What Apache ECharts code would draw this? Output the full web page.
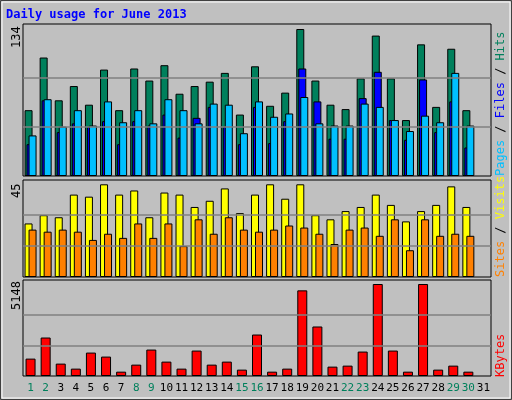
<!DOCTYPE html>
<html><head><meta charset="utf-8">
<script src="https://cdn.jsdelivr.net/npm/echarts@6/dist/echarts.min.js"></script>
<style>html,body{margin:0;padding:0;background:#c0c0c0}#c{width:512px;height:400px}</style>
</head><body><div id="c"></div>
<script>
const days = Array.from({length:31},(_,i)=>String(i+1));
const weekendDays = ['1','2','8','9','15','16','22','23','29','30'];
const hits  = [60,108,69,82,65,97,60,98,87,101,75,82,86,94,56,100,64,76,134,87,65,61,89,128,89,51,120,63,116,60,null];
const files = [29,69,40,48,45,50,29,50,46,56,35,53,63,45,29,63,30,50,98,68,34,34,71,95,51,33,88,40,68,26,null];
const pages = [37,70,45,60,46,68,49,60,48,70,60,48,66,65,39,68,54,57,72,48,46,46,66,63,51,41,55,49,94,46,null];
const visits= [26,30,29,40,39,45,40,42,29,41,40,34,37,43,31,40,45,38,45,30,28,32,34,40,35,27,32,35,44,34,null];
const sites = [23,22,23,22,18,21,19,26,19,26,15,28,21,29,23,22,23,25,24,21,16,23,24,20,28,13,28,20,21,20,null];
const kbytes= [973,2153,693,412,1310,1086,243,636,1479,805,412,1423,636,805,356,2321,243,412,4792,2770,524,580,1367,5148,1423,243,5148,356,580,243,null];
const maxHits=134, maxVisits=45, maxKB=5148;

const mono='"DejaVu Sans Mono", monospace';
const grids=[
 {left:23,top:24,width:468,height:152},
 {left:23,top:180,width:468,height:97},
 {left:23,top:280,width:468,height:96}
].map(g=>Object.assign(g,{show:true,borderColor:'#000',borderWidth:1,backgroundColor:'#c0c0c0'}));
function xa(i,show){return {type:'category',gridIndex:i,data:days,axisLine:{show:false},axisTick:{show:false},
  axisLabel:{show:show,fontFamily:mono,fontSize:11,margin:7,interval:0,
   color:(v)=>weekendDays.includes(v)?'#00805c':'#000'}};}
function ya(i,m){return {type:'value',gridIndex:i,min:0,max:m,axisLabel:{show:false},axisLine:{show:false},axisTick:{show:false},splitLine:{show:false}};}
function gl(m){return {silent:true,symbol:'none',label:{show:false},lineStyle:{color:'#808080',type:'solid',width:1.5},data:[{yAxis:m/3},{yAxis:2*m/3}]};}
const bs={borderColor:'#000',borderWidth:1};
const opt={animation:false,backgroundColor:'#c0c0c0',grid:grids,
 xAxis:[xa(0,false),xa(1,false),xa(2,true)],
 yAxis:[ya(0,maxHits*152/147),ya(1,maxVisits*97/92.7),ya(2,maxKB*96/92)],
 series:[
  {type:'bar',xAxisIndex:0,yAxisIndex:0,data:hits,barWidth:8,barGap:'-75%',itemStyle:Object.assign({color:'#00805c'},bs),markLine:gl(maxHits),z:1},
  {type:'bar',xAxisIndex:0,yAxisIndex:0,data:files,barWidth:8,barGap:'-75%',itemStyle:Object.assign({color:'#0000ff'},bs),z:2},
  {type:'bar',xAxisIndex:0,yAxisIndex:0,data:pages,barWidth:8,barGap:'-75%',itemStyle:Object.assign({color:'#00c0ff'},bs),z:3},
  {type:'bar',xAxisIndex:1,yAxisIndex:1,data:visits,barWidth:8,barGap:'-50%',itemStyle:Object.assign({color:'#ffff00'},bs),markLine:gl(maxVisits)},
  {type:'bar',xAxisIndex:1,yAxisIndex:1,data:sites,barWidth:8,barGap:'-50%',itemStyle:Object.assign({color:'#ff8000'},bs)},
  {type:'bar',xAxisIndex:2,yAxisIndex:2,data:kbytes,barWidth:10,itemStyle:Object.assign({color:'#ff0000'},bs),markLine:gl(maxKB)}
 ],
 graphic:[
  {type:'rect',shape:{x:0.5,y:0.5,width:511,height:399},style:{fill:null,stroke:'#404040',lineWidth:1},silent:true},
  {type:'rect',shape:{x:2,y:2,width:508,height:396},style:{fill:null,stroke:'#ffffff',lineWidth:1},silent:true},
  {type:'text',left:6,top:9,style:{text:'Daily usage for June 2013',fill:'#0000ff',font:'bold 12px '+mono}},
  {type:'text',x:11,y:48,rotation:Math.PI/2,style:{text:String(maxHits),fill:'#000',font:'12px '+mono}},
  {type:'text',x:11,y:198,rotation:Math.PI/2,style:{text:String(maxVisits),fill:'#000',font:'12px '+mono}},
  {type:'text',x:11,y:310,rotation:Math.PI/2,style:{text:String(maxKB),fill:'#000',font:'12px '+mono}},
  {type:'text',x:495,y:176,rotation:Math.PI/2,style:{text:'{p|Pages}{s| / }{f|Files}{s| / }{h|Hits}',font:'12px '+mono,
    rich:{p:{fill:'#00c0ff',font:'12px '+mono},s:{fill:'#000',font:'12px '+mono},f:{fill:'#0000ff',font:'12px '+mono},h:{fill:'#00805c',font:'12px '+mono}}}},
  {type:'text',x:495,y:277,rotation:Math.PI/2,style:{text:'{a|Sites}{s| / }{v|Visits}',font:'12px '+mono,
    rich:{a:{fill:'#ff8000',font:'12px '+mono},s:{fill:'#000',font:'12px '+mono},v:{fill:'#ffff00',font:'12px '+mono}}}},
  {type:'text',x:495,y:377,rotation:Math.PI/2,style:{text:'KBytes',fill:'#ff0000',font:'12px '+mono}}
 ]};
echarts.init(document.getElementById('c')).setOption(opt);
</script></body></html>
